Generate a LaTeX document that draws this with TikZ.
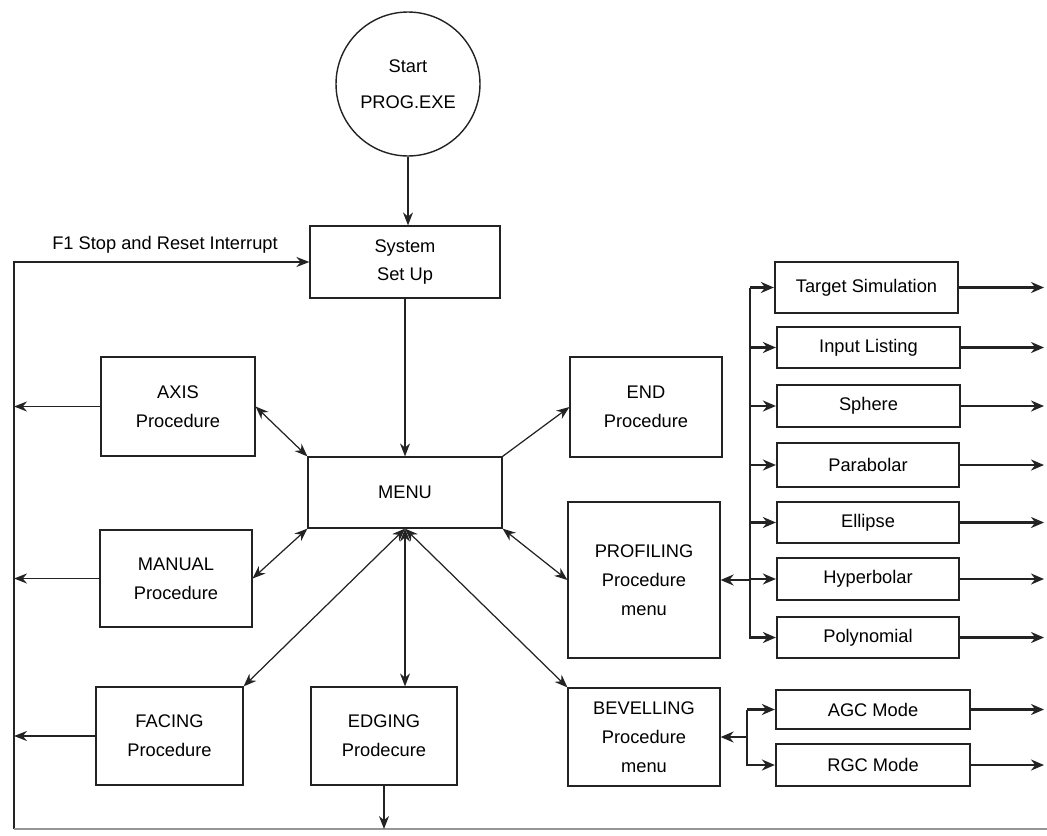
\documentclass[tikz,border=0pt]{standalone}
\usepackage{fontspec}
\setmainfont{Liberation Sans}
\usetikzlibrary{arrows.meta}
\definecolor{ink}{RGB}{35,35,35}
\definecolor{gry}{RGB}{150,150,150}
\tikzset{
  box/.style={draw=ink, line width=0.7pt, align=center, inner sep=0pt},
  hbox/.style={draw=ink, line width=1.3pt, align=center, inner sep=0pt},
  lnk/.style={draw=ink, line width=0.7pt, -{Stealth[length=2.6mm,width=2mm]}},
  dlnk/.style={draw=ink, line width=0.7pt, {Stealth[length=2.6mm,width=2mm]}-{Stealth[length=2.6mm,width=2mm]}},
  hlnk/.style={draw=ink, line width=1.3pt, -{Stealth[length=2.6mm,width=2.2mm]}},
}

\begin{document}
\begin{tikzpicture}[x=0.02cm,y=-0.02cm,font=\fontsize{10.4}{16.4}\selectfont]
\useasboundingbox (0,0) rectangle (1047,835);
\node[circle,draw=ink,line width=0.8pt,minimum size=2.88cm,align=center] (start) at (408,84) {Start\\[4pt]PROG.EXE};
\node[box,minimum width=3.8cm,minimum height=1.44cm] (setup) at (405,262) {System\\Set Up};
\node[box,minimum width=3.88cm,minimum height=1.42cm] (menu) at (405,492.5) {MENU};
\node[box,minimum width=3.08cm,minimum height=1.98cm] (axis) at (178,406.5) {AXIS\\Procedure};
\node[box,minimum width=3.04cm,minimum height=1.94cm] (manual) at (176,578.5) {MANUAL\\Procedure};
\node[box,minimum width=2.94cm,minimum height=1.96cm] (facing) at (169.5,736) {FACING\\Procedure};
\node[box,minimum width=2.92cm,minimum height=1.96cm] (edging) at (384,736) {EDGING\\Prodecure};
\node[box,minimum width=3.04cm,minimum height=2.0cm] (endp) at (646,407) {END\\Procedure};
\node[box,minimum width=3.04cm,minimum height=3.12cm] (profiling) at (644,580) {PROFILING\\Procedure\\menu};
\node[box,minimum width=3.04cm,minimum height=1.96cm] (bevelling) at (644,737) {BEVELLING\\Procedure\\menu};
% profiling options
\node[hbox,minimum width=3.66cm,minimum height=1.02cm] (tsim) at (866.5,287.5) {Target Simulation};
\node[hbox,minimum width=3.66cm,minimum height=0.82cm] (input) at (868.5,347.5) {Input Listing};
\node[hbox,minimum width=3.66cm,minimum height=0.84cm] (sphere) at (868.5,406) {Sphere};
\node[hbox,minimum width=3.64cm,minimum height=0.88cm] (parab) at (868,465) {Parabolar};
\node[hbox,minimum width=3.64cm,minimum height=0.82cm] (ellipse) at (868,522.5) {Ellipse};
\node[hbox,minimum width=3.64cm,minimum height=0.84cm] (hyper) at (868,579) {Hyperbolar};
\node[hbox,minimum width=3.64cm,minimum height=0.82cm] (poly) at (868,637.5) {Polynomial};
% bevelling options
\node[hbox,minimum width=3.88cm,minimum height=0.78cm] (agc) at (873,709.5) {AGC Mode};
\node[hbox,minimum width=3.88cm,minimum height=0.84cm] (rgc) at (873,765) {RGC Mode};
\node (f1) at (165,245) {F1 Stop and Reset Interrupt};
\coordinate (fbk) at (14,829);
\coordinate (rgt) at (1047,829);
\coordinate (outx) at (1044,0);
\coordinate (pbus) at (750,580);
\coordinate (bbus) at (747,737);
\draw[lnk] (start.south) -- (start.south |- setup.north);
\draw[lnk] (setup) -- (menu);
\draw[lnk,line width=1pt] (fbk) |- (setup.west);
\draw[gry,line width=0.6pt] (fbk) -- (rgt);
\foreach \n in {axis,manual,facing} \draw[lnk,line width=1pt] (\n.west) -- (\n.west -| fbk);
\draw[dlnk] (axis.east) -- (menu.north west);
\draw[dlnk] (manual.east) -- (menu.south west);
\draw[dlnk] (menu.south) -- (facing.north east);
\draw[dlnk] (menu.south) -- (menu.south |- edging.north);
\draw[dlnk] (menu.south) -- (bevelling.north west);
\draw[lnk] (menu.north east) -- (endp.west);
\draw[dlnk] (menu.south east) -- (profiling.west);
\draw[lnk] (edging.south) -- (edging.south |- fbk);
% right column
\draw[hlnk] (pbus) -- (profiling.east);
\draw[hlnk] (pbus |- tsim.west) -- (pbus |- poly.west) -- (poly.west);
\draw[hlnk] (pbus |- tsim.west) -- (tsim.west);
\foreach \n in {input,sphere,parab,ellipse,hyper} \draw[hlnk] (pbus |- \n.west) -- (\n.west);
\draw[hlnk] (bbus) -- (bevelling.east);
\draw[hlnk] (bbus |- agc.west) -- (bbus |- rgc.west) -- (rgc.west);
\draw[hlnk] (bbus |- agc.west) -- (agc.west);
\foreach \n in {tsim,input,sphere,parab,ellipse,hyper,poly,agc,rgc} \draw[hlnk] (\n.east) -- (\n.east -| outx);
\end{tikzpicture}
\end{document}
